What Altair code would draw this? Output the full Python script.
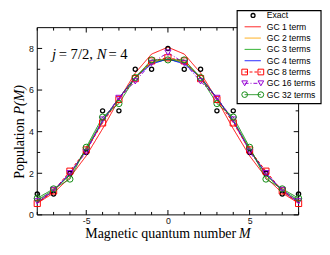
import altair as alt
import pandas as pd

# ---------------- data ----------------
M = [-8, -7, -6, -5, -4, -3, -2, -1, 0, 1, 2, 3, 4, 5, 6, 7, 8]
exact = [1, 1, 2, 3, 5, 5, 7, 7, 8, 7, 7, 5, 5, 3, 2, 1, 1]
gc1 = [0.56, 1.05, 1.80, 2.84, 4.14, 5.54, 6.82, 7.73, 8.06, 7.73, 6.82, 5.54, 4.14, 2.84, 1.80, 1.05, 0.56]
gc2 = [0.62, 1.15, 1.95, 3.10, 4.50, 5.62, 6.62, 7.35, 7.52, 7.35, 6.62, 5.62, 4.50, 3.10, 1.95, 1.15, 0.62]
gc3 = [0.70, 1.20, 1.92, 3.18, 4.55, 5.60, 6.62, 7.32, 7.47, 7.32, 6.62, 5.60, 4.55, 3.18, 1.92, 1.20, 0.70]
gc4 = [0.60, 1.15, 2.00, 3.10, 4.50, 5.62, 6.60, 7.25, 7.50, 7.25, 6.60, 5.62, 4.50, 3.10, 2.00, 1.15, 0.60]
gc8 = [0.55, 1.15, 2.10, 3.12, 4.42, 5.55, 6.55, 7.40, 7.55, 7.40, 6.55, 5.55, 4.42, 3.12, 2.10, 1.15, 0.55]
gc16 = [0.65, 1.20, 2.00, 3.02, 4.58, 5.62, 6.42, 7.30, 7.80, 7.30, 6.42, 5.62, 4.58, 3.02, 2.00, 1.20, 0.65]
gc32 = [0.80, 1.25, 1.72, 3.25, 4.70, 5.35, 6.60, 7.45, 7.45, 7.45, 6.60, 5.35, 4.70, 3.25, 1.72, 1.25, 0.80]

gc_names = ["GC 1 term", "GC 2 terms", "GC 3 terms", "GC 4 terms",
            "GC 8 terms", "GC 16 terms", "GC 32 terms"]
gc_values = [gc1, gc2, gc3, gc4, gc8, gc16, gc32]
gc_colors = ["#ff0000", "#ffa500", "#00a000", "#0000ff", "#ff0000", "#9400d3", "#108a10"]
gc_dashes = [[1, 0], [1, 0], [1, 0], [1, 0], [3, 2], [4, 2, 1, 2], [1, 0]]
marked_names = ["GC 8 terms", "GC 16 terms", "GC 32 terms"]
marked_shapes = ["square", "triangle-down", "circle"]
marked_colors = ["#ff0000", "#9400d3", "#108a10"]

x_ticks_major = [-5, 0, 5]
x_ticks_minor = [-8, -7, -6, -4, -3, -2, -1, 1, 2, 3, 4, 6, 7, 8]
y_ticks_major = [0, 2, 4, 6, 8]
y_ticks_minor = [1, 3, 5, 7]

# ---------------- tables ----------------
rows = []
for name, vals in zip(gc_names, gc_values):
    for m, v in zip(M, vals):
        rows.append({"series": name, "M": m, "P": v})
gc_df = pd.DataFrame(rows)
marked_df = gc_df[gc_df["series"].isin(marked_names)]
exact_df = pd.DataFrame({"M": M, "P": exact})
one = pd.DataFrame({"k": [0]})

legend_names = ["Exact"] + gc_names
legend_df = pd.DataFrame({"row": list(range(8)), "name": legend_names})
legend_lines_df = legend_df[legend_df["name"] != "Exact"]
legend_marked_df = legend_df[legend_df["name"].isin(marked_names)]
legend_exact_df = legend_df[legend_df["name"] == "Exact"]

W, H = 268, 192
xs = alt.Scale(domain=[-8, 8], nice=False, zero=False)
ys = alt.Scale(domain=[0, 9], nice=False, zero=True)
ls = alt.Scale(domain=[0, 7], range=[-12.5, 68.7])

color_scale = alt.Scale(domain=gc_names, range=gc_colors)
dash_scale = alt.Scale(domain=gc_names, range=gc_dashes)
shape_scale = alt.Scale(domain=marked_names, range=marked_shapes)
mcolor_scale = alt.Scale(domain=marked_names, range=marked_colors)

xaxis = alt.Axis(values=x_ticks_major, ticks=False, domain=False, grid=False, title=None,
                 labelFont="Liberation Sans", labelFontSize=9, labelColor="#111",
                 labelPadding=2, labelExpr="toString(datum.value)")
yaxis = alt.Axis(values=y_ticks_major, ticks=False, domain=False, grid=False, title=None,
                 labelFont="Liberation Sans", labelFontSize=9, labelColor="#111",
                 labelPadding=4, labelExpr="toString(datum.value)")

# frame
frame = alt.Chart(one).mark_rect(filled=False, stroke="black", strokeWidth=1).encode(
    x=alt.value(0), x2=alt.value(W), y=alt.value(0), y2=alt.value(H))

# inward ticks
def xtick(vals, length, bottom):
    d = pd.DataFrame({"M": vals})
    if bottom:
        yy, yy2 = H, H - length
    else:
        yy, yy2 = 0, length
    return alt.Chart(d).mark_rule(color="black", strokeWidth=1).encode(
        x=alt.X("M:Q", scale=xs, axis=xaxis), y=alt.value(yy), y2=alt.value(yy2))

def ytick(vals, length, left):
    d = pd.DataFrame({"t": vals})
    if left:
        xx, xx2 = 0, length
    else:
        xx, xx2 = W, W - length
    return alt.Chart(d).mark_rule(color="black", strokeWidth=1).encode(
        y=alt.Y("t:Q", scale=ys, axis=None), x=alt.value(xx), x2=alt.value(xx2))

ticks = [xtick(x_ticks_major, 5, True), xtick(x_ticks_minor, 3, True),
         xtick(x_ticks_major, 5, False), xtick(x_ticks_minor, 3, False),
         ytick(y_ticks_major, 5, True), ytick(y_ticks_minor, 3, True),
         ytick(y_ticks_major, 5, False), ytick(y_ticks_minor, 3, False)]

lines = alt.Chart(gc_df).mark_line(strokeWidth=1).encode(
    x=alt.X("M:Q", scale=xs, axis=xaxis),
    y=alt.Y("P:Q", scale=ys, axis=yaxis),
    color=alt.Color("series:N", scale=color_scale, legend=None),
    strokeDash=alt.StrokeDash("series:N", scale=dash_scale, legend=None),
)

exact_pts = alt.Chart(exact_df).mark_point(shape="circle", size=18, filled=False,
                                           stroke="black", strokeWidth=1.3, opacity=1).encode(
    x=alt.X("M:Q", scale=xs, axis=xaxis),
    y=alt.Y("P:Q", scale=ys, axis=None),
)

gc_pts = alt.Chart(marked_df).mark_point(size=40, filled=False, strokeWidth=1, opacity=1).encode(
    x=alt.X("M:Q", scale=xs, axis=xaxis),
    y=alt.Y("P:Q", scale=ys, axis=None),
    shape=alt.Shape("series:N", scale=shape_scale, legend=None),
    color=alt.Color("series:N", scale=mcolor_scale, legend=None),
)

# legend
lbox = alt.Chart(one).mark_rect(fill="white", stroke="black", strokeWidth=1.2).encode(
    x=alt.value(205), x2=alt.value(291), y=alt.value(-17.5), y2=alt.value(78))
llines = alt.Chart(legend_lines_df).mark_rule(strokeWidth=1).encode(
    x=alt.value(212.7), x2=alt.value(229.3),
    y=alt.Y("row:Q", scale=ls, axis=None),
    color=alt.Color("name:N", scale=color_scale, legend=None),
    strokeDash=alt.StrokeDash("name:N", scale=dash_scale, legend=None),
)
lmark_l = alt.Chart(legend_marked_df).mark_point(size=34, filled=False, strokeWidth=1, opacity=1).encode(
    x=alt.value(212.7), y=alt.Y("row:Q", scale=ls, axis=None),
    shape=alt.Shape("name:N", scale=shape_scale, legend=None),
    color=alt.Color("name:N", scale=mcolor_scale, legend=None),
)
lmark_r = alt.Chart(legend_marked_df).mark_point(size=34, filled=False, strokeWidth=1, opacity=1).encode(
    x=alt.value(229.3), y=alt.Y("row:Q", scale=ls, axis=None),
    shape=alt.Shape("name:N", scale=shape_scale, legend=None),
    color=alt.Color("name:N", scale=mcolor_scale, legend=None),
)
lexact = alt.Chart(legend_exact_df).mark_point(shape="circle", size=16, filled=False,
                                               stroke="black", strokeWidth=1.3, opacity=1).encode(
    x=alt.value(221.3), y=alt.Y("row:Q", scale=ls, axis=None))
ltext = alt.Chart(legend_df).mark_text(align="left", baseline="middle", font="Liberation Sans",
                                       fontSize=8.8, color="black").encode(
    x=alt.value(235.3), y=alt.Y("row:Q", scale=ls, axis=None), text="name:N")

# titles and annotation
def txt(s, x, y, size, align="left", italic=False, angle=0):
    kw = dict(align=align, baseline="alphabetic", font="Liberation Serif",
              fontSize=size, color="black")
    if italic:
        kw["fontStyle"] = "italic"
    if angle:
        kw["angle"] = angle
    return alt.Chart(one).mark_text(**kw).encode(x=alt.value(x), y=alt.value(y), text=alt.value(s))

texts = [
    txt("Magnetic quantum number", 204, 216, 14.3, align="right"),
    txt("M", 207, 216, 14.3, italic=True),
    txt("Population", -13.5, 93, 14.3, align="right", angle=270),
    txt("P(M)", -13.5, 89, 14.3, align="left", italic=True, angle=270),
    txt("j", 15, 32, 15, italic=True),
    txt("= 7/2,", 22, 32, 15),
    txt("N", 61, 32, 15, italic=True),
    txt("= 4", 73, 32, 15),
]

chart = alt.layer(
    frame, *ticks, lines, exact_pts, gc_pts,
    lbox, llines, lmark_l, lmark_r, lexact, ltext, *texts
).resolve_scale(
    y="independent"
).properties(
    width=W, height=H,
    autosize=alt.AutoSizeParams(type="none"),
    padding={"left": 30, "top": 17, "right": 24, "bottom": 38},
).configure_view(stroke=None)

chart.save("out.html", embed_options={"renderer": "svg", "actions": False})
